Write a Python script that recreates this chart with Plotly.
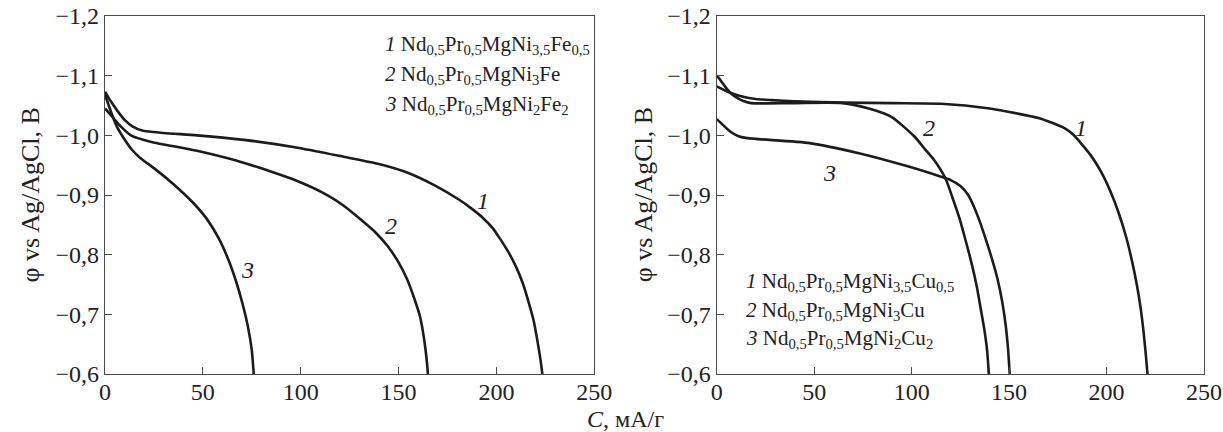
import plotly.graph_objects as go

# ---------------- data ----------------
# Left panel: Fe-substituted alloys
left_c1 = [0, 2, 4, 7, 10, 14, 19, 30, 47, 72, 97, 122, 140, 155, 168, 181, 187, 193, 198, 202, 206, 210,
           213.5, 216.5, 219, 221, 222.5, 223.5]
left_phi1 = [-1.073, -1.062, -1.052, -1.038, -1.026, -1.015, -1.008, -1.004, -1.000, -0.992, -0.980, -0.964,
             -0.952, -0.937, -0.917, -0.892, -0.878, -0.862, -0.845, -0.826, -0.805, -0.780,
             -0.752, -0.720, -0.690, -0.655, -0.625, -0.600]

left_c2 = [0, 4, 8, 13.7, 23.7, 47, 72, 97, 114, 122, 131, 138, 144.5, 150, 154.5, 158, 161, 163, 164.5, 165]
left_phi2 = [-1.045, -1.030, -1.015, -0.999, -0.989, -0.974, -0.953, -0.925, -0.899, -0.882, -0.858, -0.838,
             -0.814, -0.787, -0.758, -0.727, -0.696, -0.660, -0.620, -0.600]

left_c3 = [0, 3, 6, 10, 14, 18, 25, 35, 45, 52, 58, 63, 67, 70.5, 73, 75, 76]
left_phi3 = [-1.068, -1.040, -1.015, -0.993, -0.975, -0.962, -0.945, -0.918, -0.887, -0.860, -0.828, -0.792,
             -0.755, -0.715, -0.680, -0.640, -0.600]

# Right panel: Cu-substituted alloys
right_c1 = [0, 5, 12, 20, 28, 40, 65, 90, 115, 140, 155, 165, 172, 178.4, 183, 186.8, 192, 197, 202, 206,
            210, 213, 215.5, 217.5, 219, 220.2, 221]
right_phi1 = [-1.082, -1.074, -1.066, -1.061, -1.059, -1.057, -1.055, -1.054, -1.053, -1.045, -1.036, -1.029,
              -1.021, -1.012, -1.001, -0.987, -0.966, -0.940, -0.906, -0.872,
              -0.830, -0.790, -0.750, -0.710, -0.670, -0.630, -0.600]

right_c2 = [0, 2, 4.2, 7, 10.9, 14, 17.6, 39, 64.5, 78, 89.6, 101.4, 107, 111.4, 117.3, 121, 124.8, 128,
            131, 133.5, 135.5, 137.3, 138.7, 139.6]
right_phi2 = [-1.100, -1.092, -1.082, -1.071, -1.062, -1.057, -1.054, -1.054, -1.054, -1.045, -1.031, -0.998,
              -0.976, -0.959, -0.928, -0.895, -0.858, -0.820, -0.782, -0.745, -0.708, -0.674, -0.640, -0.600]

right_c3 = [0, 3, 5.9, 9, 12.6, 20, 47.7, 72.9, 98, 114.7, 120, 125, 129, 132, 135, 138, 141, 144, 146.5,
            148.3, 149.5, 150.3]
right_phi3 = [-1.027, -1.018, -1.009, -1.002, -0.997, -0.994, -0.987, -0.970, -0.948, -0.931, -0.925, -0.915,
              -0.900, -0.880, -0.855, -0.826, -0.795, -0.760, -0.720, -0.680, -0.640, -0.600]

# ticks
y_tick_vals = [-1.2, -1.1, -1.0, -0.9, -0.8, -0.7, -0.6]
y_tick_text = ["−1,2", "−1,1", "−1,0", "−0,9", "−0,8", "−0,7", "−0,6"]
x_tick_vals = [0, 50, 100, 150, 200, 250]
x_tick_text = ["0", "50", "100", "150", "200", "250"]

# texts
left_legend = [
    "<i>1</i> Nd<sub>0,5</sub>Pr<sub>0,5</sub>MgNi<sub>3,5</sub>Fe<sub>0,5</sub>",
    "<i>2</i> Nd<sub>0,5</sub>Pr<sub>0,5</sub>MgNi<sub>3</sub>Fe",
    "<i>3</i> Nd<sub>0,5</sub>Pr<sub>0,5</sub>MgNi<sub>2</sub>Fe<sub>2</sub>",
]
right_legend = [
    "<i>1</i> Nd<sub>0,5</sub>Pr<sub>0,5</sub>MgNi<sub>3,5</sub>Cu<sub>0,5</sub>",
    "<i>2</i> Nd<sub>0,5</sub>Pr<sub>0,5</sub>MgNi<sub>3</sub>Cu",
    "<i>3</i> Nd<sub>0,5</sub>Pr<sub>0,5</sub>MgNi<sub>2</sub>Cu<sub>2</sub>",
]
curve_labels = ["1", "2", "3"]
left_label_pos = [(193, -0.890), (146, -0.848), (73, -0.775)]
right_label_pos = [(187, -1.012), (109, -1.012), (58, -0.937)]

y_title = "φ vs Ag/AgCl, B"
x_title = "<i>C</i>, мА/г"

FONT = "Liberation Serif"
TEXT_COLOR = "#222222"
LINE_COLOR = "#1c1c1c"
AXIS_COLOR = "#4a4a4a"

fig = go.Figure()


def add_curve(x, y, xa, ya):
    fig.add_trace(go.Scatter(
        x=x, y=y, xaxis=xa, yaxis=ya, mode="lines",
        line=dict(color=LINE_COLOR, width=2.6, shape="spline", smoothing=0.6),
        showlegend=False, hoverinfo="skip"))


add_curve(left_c1, left_phi1, "x", "y")
add_curve(left_c2, left_phi2, "x", "y")
add_curve(left_c3, left_phi3, "x", "y")
add_curve(right_c1, right_phi1, "x2", "y2")
add_curve(right_c2, right_phi2, "x2", "y2")
add_curve(right_c3, right_phi3, "x2", "y2")

W, H = 1223, 432
TOP, BOTTOM = 16, 58
PH = H - TOP - BOTTOM
L_DOM = [101 / W, 600 / W]
R_DOM = [725 / W, 1222 / W]

axis_common = dict(
    showline=True, mirror=True, linecolor=AXIS_COLOR, linewidth=1.4,
    ticks="inside", ticklen=7, tickwidth=1.3, tickcolor=AXIS_COLOR,
    showgrid=False, zeroline=False,
    tickfont=dict(family=FONT, size=24, color=TEXT_COLOR),
)

x_axis_extra = dict(ticklabelstandoff=-4)

fig.update_layout(
    width=W, height=H,
    margin=dict(l=0, r=0, t=TOP, b=BOTTOM),
    paper_bgcolor="white", plot_bgcolor="white",
    font=dict(family=FONT, size=20, color=TEXT_COLOR),
    xaxis=dict(domain=L_DOM, range=[0, 250], tickvals=x_tick_vals, ticktext=x_tick_text,
               anchor="y", **axis_common, **x_axis_extra),
    yaxis=dict(domain=[0, 1], range=[-0.6, -1.2], tickvals=y_tick_vals, ticktext=y_tick_text,
               anchor="x", **axis_common),
    xaxis2=dict(domain=R_DOM, range=[0, 250], tickvals=x_tick_vals, ticktext=x_tick_text,
                anchor="y2", **axis_common, **x_axis_extra),
    yaxis2=dict(domain=[0, 1], range=[-0.6, -1.2], tickvals=y_tick_vals, ticktext=y_tick_text,
                anchor="x2", **axis_common),
)


def py(pixel_y):
    return 1 - (pixel_y - TOP) / PH


ann = []
# legends (text blocks)
for i, t in enumerate(left_legend):
    ann.append(dict(text=t, xref="paper", yref="paper", x=385 / W, y=py(45 + 30 * i),
                    xanchor="left", yanchor="middle", showarrow=False,
                    font=dict(family=FONT, size=21, color=TEXT_COLOR)))
for i, t in enumerate(right_legend):
    ann.append(dict(text=t, xref="paper", yref="paper", x=753 / W, y=py(282 + 28.5 * i),
                    xanchor="left", yanchor="middle", showarrow=False,
                    font=dict(family=FONT, size=21, color=TEXT_COLOR)))
# curve numbers
for lab, (cx, cy) in zip(curve_labels, left_label_pos):
    ann.append(dict(text="<i>" + lab + "</i>", x=cx, y=cy, xref="x", yref="y", showarrow=False,
                    font=dict(family=FONT, size=24, color=TEXT_COLOR)))
for lab, (cx, cy) in zip(curve_labels, right_label_pos):
    ann.append(dict(text="<i>" + lab + "</i>", x=cx, y=cy, xref="x2", yref="y2", showarrow=False,
                    font=dict(family=FONT, size=24, color=TEXT_COLOR)))
# axis titles
ann.append(dict(text=y_title, xref="paper", yref="paper", x=24 / W, y=py(195), textangle=-90,
                xanchor="center", yanchor="middle", showarrow=False,
                font=dict(family=FONT, size=26, color=TEXT_COLOR)))
ann.append(dict(text=y_title, xref="paper", yref="paper", x=650 / W, y=py(195), textangle=-90,
                xanchor="center", yanchor="middle", showarrow=False,
                font=dict(family=FONT, size=26, color=TEXT_COLOR)))
ann.append(dict(text=x_title, xref="paper", yref="paper", x=632 / W, y=py(419),
                xanchor="center", yanchor="middle", showarrow=False,
                font=dict(family=FONT, size=24, color=TEXT_COLOR)))
fig.update_layout(annotations=ann)

fig.write_html("out.html")
